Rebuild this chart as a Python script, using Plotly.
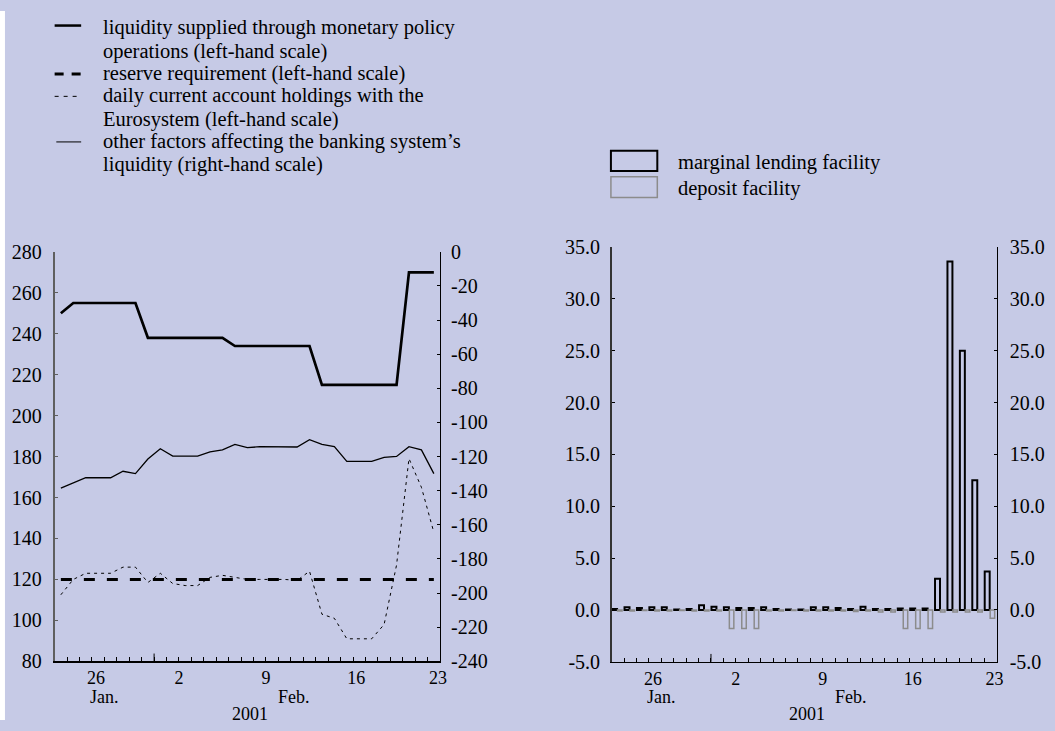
import pandas as pd
import plotly.graph_objects as go

# ---------------- data ----------------
days = pd.date_range("2001-01-24", "2001-02-23", freq="D")

liquidity_supplied = [250, 255, 255, 255, 255, 255, 255, 238, 238, 238, 238, 238, 238, 238,
                      234, 234, 234, 234, 234, 234, 234, 215, 215, 215, 215, 215, 215, 215,
                      270, 270, 270]
reserve_requirement = [120, 120, 120, 120, 120, 120, 120, 120, 120, 120, 120, 120, 120, 120,
                       120, 120, 120, 120, 120, 120, 120, 120, 120, 120, 120, 120, 120, 120,
                       120, 120, 120]
current_account = [112.5, 120, 123, 123, 123, 126, 126, 118.5, 123, 118, 117, 117, 121, 122,
                   121, 120, 120, 120, 120, 119.5, 124, 103, 101, 91, 91, 91, 98, 127,
                   179, 165, 143]
other_factors = [-138.5, -135.3, -132.4, -132.4, -132.4, -128.6, -130.0, -121.4, -115.4, -119.7,
                 -119.7, -119.7, -117.2, -116.1, -112.9, -114.8, -114.2, -114.2, -114.2, -114.4,
                 -110.1, -112.9, -114.2, -122.8, -122.8, -122.8, -120.5, -119.9, -114.2, -116.1,
                 -130.0]

marginal_lending = [0.1, 0.25, 0.2, 0.25, 0.25, 0.05, 0.1, 0.45, 0.3, 0.25, 0.2, 0.2, 0.25, 0.1,
                    0.05, 0.05, 0.25, 0.25, 0.2, 0.1, 0.3, 0.1, 0.1, 0.15, 0.15, 0.15,
                    3.0, 33.6, 25.0, 12.5, 3.7]
deposit_facility = [-0.1, -0.1, -0.05, -0.1, -0.1, -0.05, -0.1, -0.1, -0.1, -1.8, -1.8, -1.8,
                    -0.1, -0.1, -0.05, -0.1, -0.1, -0.1, -0.1, -0.15, -0.1, -0.2, -0.2,
                    -1.8, -1.8, -1.8, -0.2, -0.2, -0.2, -0.2, -0.8]

day_tick_labels = ["26", "2", "9", "16", "23"]
day_tick_dates = ["2001-01-26 20:00", "2001-02-02 12:00", "2001-02-09 12:00",
                  "2001-02-16 18:00", "2001-02-23 08:00"]
month_labels = ["Jan.", "Feb."]
month_label_dates = ["2001-01-27 12:00", "2001-02-11 18:00"]
year_label = "2001"
year_label_date = "2001-02-08 05:00"
month_boundary = "2001-01-31 12:00"

left_ticks = [80, 100, 120, 140, 160, 180, 200, 220, 240, 260, 280]
right_ticks = [-240, -220, -200, -180, -160, -140, -120, -100, -80, -60, -40, -20, 0]
right_tick_text = ["-240", "-220", "-200", "-180", "-160", "-140", "-120", "-100",
                   "-80", "-60", "-40", "-20", "0"]
bar_ticks = [-5, 0, 5, 10, 15, 20, 25, 30, 35]
bar_tick_text = ["-5.0", "0.0", "5.0", "10.0", "15.0", "20.0", "25.0", "30.0", "35.0"]

legend_left = [
    ("liquidity supplied through monetary policy", "operations (left-hand scale)"),
    ("reserve requirement (left-hand scale)",),
    ("daily current account holdings with the", "Eurosystem (left-hand scale)"),
    ("other factors affecting the banking system\u2019s", "liquidity (right-hand scale)"),
]
legend_right = ["marginal lending facility", "deposit facility"]

# ---------------- style ----------------
W, H = 1055, 731
BG = "#c6cae6"
FONT = "Liberation Serif"
FS = 20
FS_LEG = 20.5
FS_X = 18
GREY = "#8c8c8c"
DAY_MS = 86400000


def fx(p):
    return p / W


def fy(p):
    return 1 - p / H


x_range = ["2001-01-23 12:00", "2001-02-23 12:00"]
minor_vals = [d + pd.Timedelta(hours=12) for d in days[:-1]]

fig = go.Figure()

# left chart
fig.add_trace(go.Scatter(x=days, y=liquidity_supplied, mode="lines", xaxis="x", yaxis="y",
                         line=dict(color="black", width=2.7), showlegend=False))
fig.add_trace(go.Scatter(x=days, y=reserve_requirement, mode="lines", xaxis="x", yaxis="y",
                         line=dict(color="black", width=3, dash="11px,12px"), showlegend=False))
fig.add_trace(go.Scatter(x=days, y=current_account, mode="lines", xaxis="x", yaxis="y",
                         line=dict(color="black", width=1, dash="3px,4px"), showlegend=False))
fig.add_trace(go.Scatter(x=days, y=other_factors, mode="lines", xaxis="x", yaxis="y2",
                         line=dict(color="black", width=1.3), showlegend=False))

# right chart
fig.add_trace(go.Bar(x=days, y=marginal_lending, xaxis="x2", yaxis="y3",
                     marker=dict(color="rgba(0,0,0,0)", line=dict(color="black", width=2)),
                     offset=-0.46 * DAY_MS, width=0.4 * DAY_MS, showlegend=False))
fig.add_trace(go.Bar(x=days, y=deposit_facility, xaxis="x2", yaxis="y4",
                     marker=dict(color="rgba(0,0,0,0)", line=dict(color=GREY, width=1.5)),
                     offset=-0.02 * DAY_MS, width=0.36 * DAY_MS, showlegend=False))

tickfont = dict(family=FONT, size=FS, color="black")
tickfont_x = dict(family=FONT, size=FS_X, color="black")

xcommon = dict(type="date", range=x_range, showline=True, linecolor="black", linewidth=1.3,
               showgrid=False, zeroline=False, ticks="inside", ticklen=0,
               tickmode="array", tickvals=day_tick_dates, ticktext=day_tick_labels,
               tickfont=tickfont_x, ticklabelstandoff=0,
               minor=dict(ticks="inside", ticklen=4, tickwidth=1, tickcolor="black",
                          tickmode="array", tickvals=minor_vals))

fig.update_layout(
    width=W, height=H,
    paper_bgcolor=BG, plot_bgcolor=BG,
    margin=dict(l=0, r=0, t=0, b=0),
    showlegend=False,
    barmode="overlay",
    font=dict(family=FONT, size=FS, color="black"),
    xaxis=dict(domain=[fx(55), fx(443)], anchor="y", **xcommon),
    yaxis=dict(domain=[fy(670.5), fy(248.3)], anchor="x", range=[80, 280],
               tickmode="array", tickvals=left_ticks, ticks="inside", ticklen=3,
               tickcolor="#5f5f5f", showline=True, linecolor="#5f5f5f", linewidth=2,
               showgrid=False, zeroline=False, tickfont=tickfont, ticklabelstandoff=7),
    yaxis2=dict(overlaying="y", side="right", anchor="x", range=[-240, 0],
                tickmode="array", tickvals=right_ticks, ticktext=right_tick_text,
                ticks="inside", ticklen=3, tickcolor="black", showline=True,
                linecolor="black", linewidth=1, showgrid=False, zeroline=False,
                tickfont=tickfont, ticklabelstandoff=6),
    xaxis2=dict(domain=[fx(615.7), fx(1003.3)], anchor="y3", **xcommon),
    yaxis3=dict(domain=[fy(671), fy(243.3)], anchor="x2", range=[-5, 35],
                tickmode="array", tickvals=bar_ticks, ticktext=bar_tick_text,
                ticks="inside", ticklen=3, tickcolor="black", showline=True,
                linecolor="#333333", linewidth=1.5, showgrid=False, zeroline=False,
                tickfont=tickfont, ticklabelstandoff=6),
    yaxis4=dict(overlaying="y3", side="right", anchor="x2", range=[-5, 35],
                tickmode="array", tickvals=bar_ticks, ticktext=bar_tick_text,
                ticks="inside", ticklen=3, tickcolor="black", showline=True,
                linecolor="black", linewidth=1, showgrid=False, zeroline=False,
                tickfont=tickfont, ticklabelstandoff=8),
)

shapes = []
annotations = []

# thin white strip along the left edge, as in the reference
shapes.append(dict(type="rect", xref="paper", yref="paper", x0=0, x1=fx(5), y0=0, y1=1,
                   fillcolor="white", line=dict(width=0), layer="below"))

# month boundary ticks and date captions
for xr, yr in (("x", "y domain"), ("x2", "y3 domain")):
    shapes.append(dict(type="line", xref=xr, yref=yr, x0=month_boundary, x1=month_boundary,
                       y0=0, y1=0.019, line=dict(color="black", width=1)))
    for lab, d in zip(month_labels, month_label_dates):
        annotations.append(dict(text=lab, xref=xr, yref="paper", x=d, y=fy(707),
                                xanchor="center", yanchor="middle", showarrow=False,
                                font=dict(family=FONT, size=FS_X)))
    annotations.append(dict(text=year_label, xref=xr, yref="paper", x=year_label_date,
                            y=fy(725), xanchor="center", yanchor="middle", showarrow=False,
                            font=dict(family=FONT, size=FS_X)))

# left legend
sym_y = [15, 65, 88, 135]
text_rows = [[16.7, 41.7], [64], [87.3, 111.7], [135, 158.3]]
shapes.append(dict(type="line", xref="paper", yref="paper", x0=fx(55), x1=fx(81.7),
                   y0=fy(sym_y[0]), y1=fy(sym_y[0]), line=dict(color="black", width=2.5)))
shapes.append(dict(type="line", xref="paper", yref="paper", x0=fx(55), x1=fx(81.7),
                   y0=fy(sym_y[1]), y1=fy(sym_y[1]),
                   line=dict(color="black", width=3, dash="9px,8px")))
shapes.append(dict(type="line", xref="paper", yref="paper", x0=fx(55), x1=fx(81.7),
                   y0=fy(sym_y[2]), y1=fy(sym_y[2]),
                   line=dict(color="black", width=1, dash="4px,5px")))
shapes.append(dict(type="line", xref="paper", yref="paper", x0=fx(56.7), x1=fx(81.7),
                   y0=fy(sym_y[3]), y1=fy(sym_y[3]), line=dict(color="black", width=1)))
for lines, ys in zip(legend_left, text_rows):
    for t, yy in zip(lines, ys):
        annotations.append(dict(text=t, xref="paper", yref="paper", x=fx(102), y=fy(yy),
                                xanchor="left", yanchor="middle", showarrow=False,
                                font=dict(family=FONT, size=FS_LEG)))

# right legend
shapes.append(dict(type="rect", xref="paper", yref="paper", x0=fx(615), x1=fx(661.7),
                   y0=fy(165), y1=fy(144), line=dict(color="black", width=2)))
shapes.append(dict(type="rect", xref="paper", yref="paper", x0=fx(615), x1=fx(661.7),
                   y0=fy(192.3), y1=fy(171), line=dict(color=GREY, width=1.5)))
for t, yy in zip(legend_right, [156, 183.3]):
    annotations.append(dict(text=t, xref="paper", yref="paper", x=fx(680.7), y=fy(yy),
                            xanchor="left", yanchor="middle", showarrow=False,
                            font=dict(family=FONT, size=FS_LEG)))

fig.update_layout(shapes=shapes, annotations=annotations)

# remove the browser's default page margin so the figure fills the window exactly
page_fix = ("document.body.style.margin='0';"
            "document.documentElement.style.overflow='hidden';"
            "document.body.style.overflow='hidden';")
fig.write_html("out.html", post_script=page_fix,
               config={"displayModeBar": False, "staticPlot": True})
